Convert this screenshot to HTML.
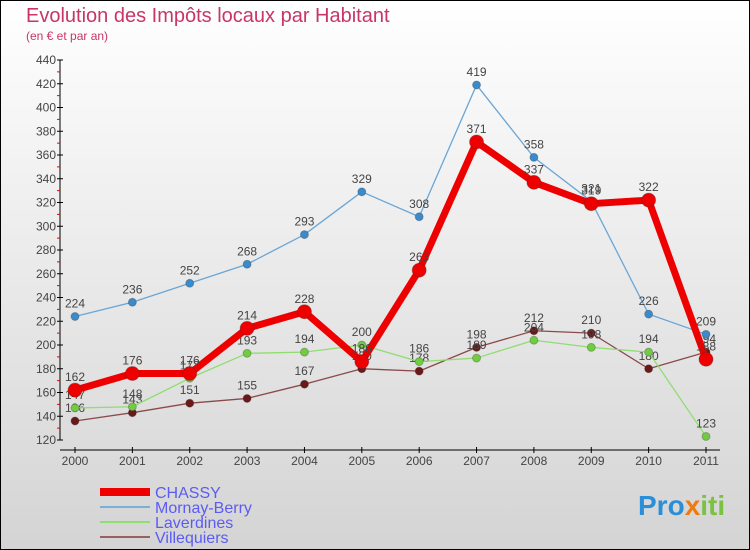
<!DOCTYPE html>
<html><head><meta charset="utf-8"><style>
body{margin:0}
#c{width:750px;height:550px;position:relative;box-sizing:border-box;border:1px solid #000;background:linear-gradient(#fff,#d4d4d4);font-family:"Liberation Sans",sans-serif;overflow:hidden}
</style></head><body>
<div id="c">
<svg id="s" width="750" height="550" style="position:absolute;left:-1px;top:-1px">
<text x="26" y="22" font-size="20" fill="#c8356a">Evolution des Impôts locaux par Habitant</text>
<text x="26" y="40" font-size="12" fill="#c8356a">(en € et par an)</text>
<text x="638" y="515" font-size="28" font-weight="bold" fill="#2a8fd8">Pro<tspan fill="#f07a10">x</tspan><tspan fill="#7cc242">iti</tspan></text>
</svg>
</div>
<script>
const years=["2000","2001","2002","2003","2004","2005","2006","2007","2008","2009","2010","2011"];
const yTicks=[120,140,160,180,200,220,240,260,280,300,320,340,360,380,400,420,440];
const chassy=[162,176,176,214,228,186,263,371,337,319,322,188];
const mornay=[224,236,252,268,293,329,308,419,358,321,226,209];
const laverdines=[147,148,172,193,194,200,186,189,204,198,194,123];
const villequiers=[136,143,151,155,167,180,178,198,212,210,180,194];
const NS="http://www.w3.org/2000/svg";const s=document.getElementById('s');
const X=i=>75+i*(631/11);const Y=v=>440-(v-120)*380/320;
function el(t,a,p){const e=document.createElementNS(NS,t);for(const k in a)e.setAttribute(k,a[k]);(p||s).appendChild(e);return e;}
const ax=el('g',{});


el('line',{x1:60,y1:60,x2:60,y2:440,stroke:'#000'},ax);
el('line',{x1:60,y1:450,x2:720,y2:450,stroke:'#000'},ax);
yTicks.forEach((v,i)=>{el('line',{x1:57,x2:63,y1:Y(v),y2:Y(v),stroke:'#000'},ax);
if(i<yTicks.length-1)el('line',{x1:57,x2:60,y1:Y(v+10),y2:Y(v+10),stroke:'#e00'},ax);
const t=el('text',{x:56,y:Y(v)+4,'text-anchor':'end','font-size':12,fill:'#444'},ax);t.textContent=v;

});
years.forEach((y,i)=>{el('line',{x1:X(i),x2:X(i),y1:447,y2:453,stroke:'#000'},ax);
const t=el('text',{x:X(i),y:465,'text-anchor':'middle','font-size':12,fill:'#444'},ax);t.textContent=y;

});
function series(name,data,col,w,r,dot){const g=el('g',{});


el('polyline',{points:data.map((v,i)=>X(i)+','+Y(v)).join(' '),fill:'none',stroke:col,'stroke-width':w,'stroke-linejoin':'round'},g);
data.forEach((v,i)=>{const c=el('circle',{cx:X(i),cy:Y(v),r:r,fill:dot,stroke:'#333','stroke-opacity':0.3},g);


const t=el('text',{x:X(i),y:Y(v)-9,'text-anchor':'middle','font-size':12,fill:'#444'},g);t.textContent=v;

});}
series('villequiers',villequiers,'#8b4a4a',1.3,4,'#6b1818');
series('laverdines',laverdines,'#90dd70',1.3,4,'#70cc40');
series('mornay-berry',mornay,'#6aa6d6',1.3,4,'#3a8acc');
series('chassy',chassy,'#ee0000',7,7,'#ee0000');
const leg=[['CHASSY','#ee0000',8],['Mornay-Berry','#7ab0d8',2],['Laverdines','#90dd70',2],['Villequiers','#9a6060',2]];
leg.forEach((l,i)=>{const g=el('g',{});


const y=492+i*15;el('line',{x1:100,x2:150,y1:y,y2:y,stroke:l[1],'stroke-width':l[2]},g);
const t=el('text',{x:155,y:y+6,'font-size':16,fill:'#5b5bf5'},g);t.textContent=l[0];});
</script>
</body></html>
